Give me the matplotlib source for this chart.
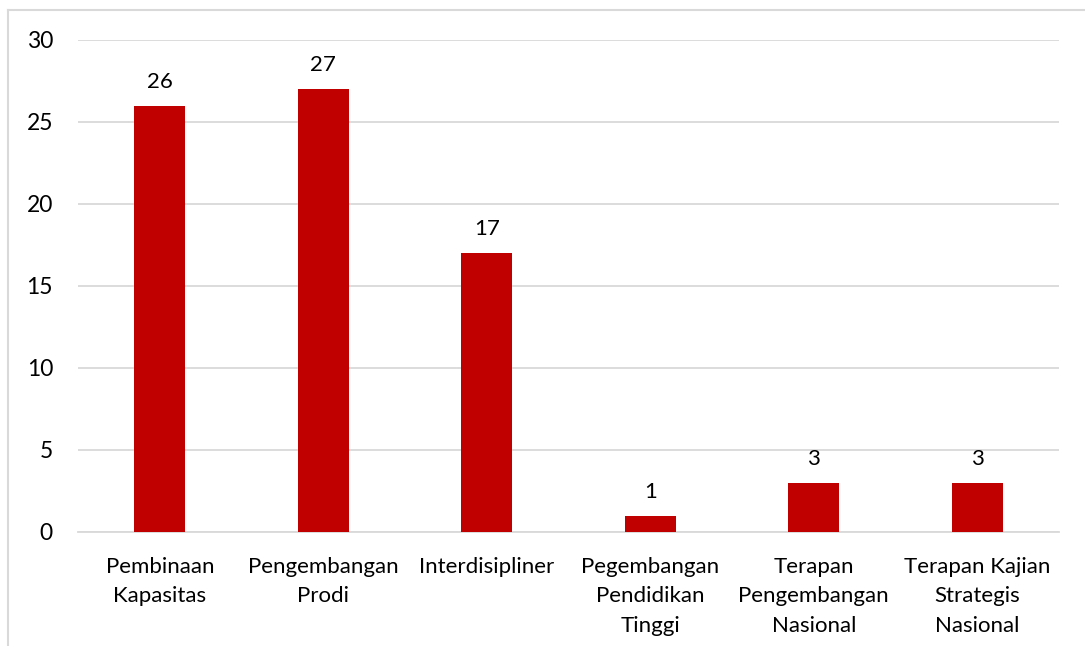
import matplotlib
matplotlib.use("Agg")
import matplotlib.pyplot as plt
from matplotlib.lines import Line2D

categories = ["Pembinaan\nKapasitas", "Pengembangan\nProdi", "Interdisipliner",
              "Pegembangan\nPendidikan\nTinggi", "Terapan\nPengembangan\nNasional",
              "Terapan Kajian\nStrategis\nNasional"]
values = [26, 27, 17, 1, 3, 3]
yticks = [0, 5, 10, 15, 20, 25, 30]

plt.rcParams['font.family'] = ['Lato', 'DejaVu Sans']

fig = plt.figure(figsize=(10.85, 6.46), dpi=100)
ax = fig.add_axes([78/1085, 1-532/646, (1059-78)/1085, (532-40)/646])

x = list(range(len(categories)))
bars = ax.bar(x, values, width=0.31, color="#c00000", zorder=3)
for xi, v in zip(x, values):
    ax.annotate(str(v), (xi, v), xytext=(0, 10), textcoords="offset points",
                ha="center", va="bottom", fontsize=16, color="#000000")

ax.set_xlim(-0.5, len(categories)-0.5)
ax.set_ylim(0, 30)
ax.set_yticks(yticks)
ax.set_yticklabels([str(t) for t in yticks], fontsize=16.5)
ax.set_xticks(x)
ax.set_xticklabels(categories, fontsize=16, linespacing=1.58, va="top")
ax.tick_params(axis="both", length=0, colors="#000000")
ax.tick_params(axis="y", pad=18)
ax.tick_params(axis="x", pad=18)
ax.grid(axis="y", color="#d9d9d9", linewidth=1.3, zorder=0)
for s in ["top", "right", "left"]:
    ax.spines[s].set_visible(False)
ax.spines["bottom"].set_color("#d9d9d9")
ax.spines["bottom"].set_linewidth(1.3)

# outer chart frame (clipped at right/bottom)
fig.add_artist(Line2D([8/1085, 1.0], [1-10/646, 1-10/646], transform=fig.transFigure,
                      color="#d9d9d9", linewidth=1.5))
fig.add_artist(Line2D([8/1085, 8/1085], [0, 1-10/646], transform=fig.transFigure,
                      color="#d9d9d9", linewidth=1.5))

fig.savefig("out.png", dpi=100)
